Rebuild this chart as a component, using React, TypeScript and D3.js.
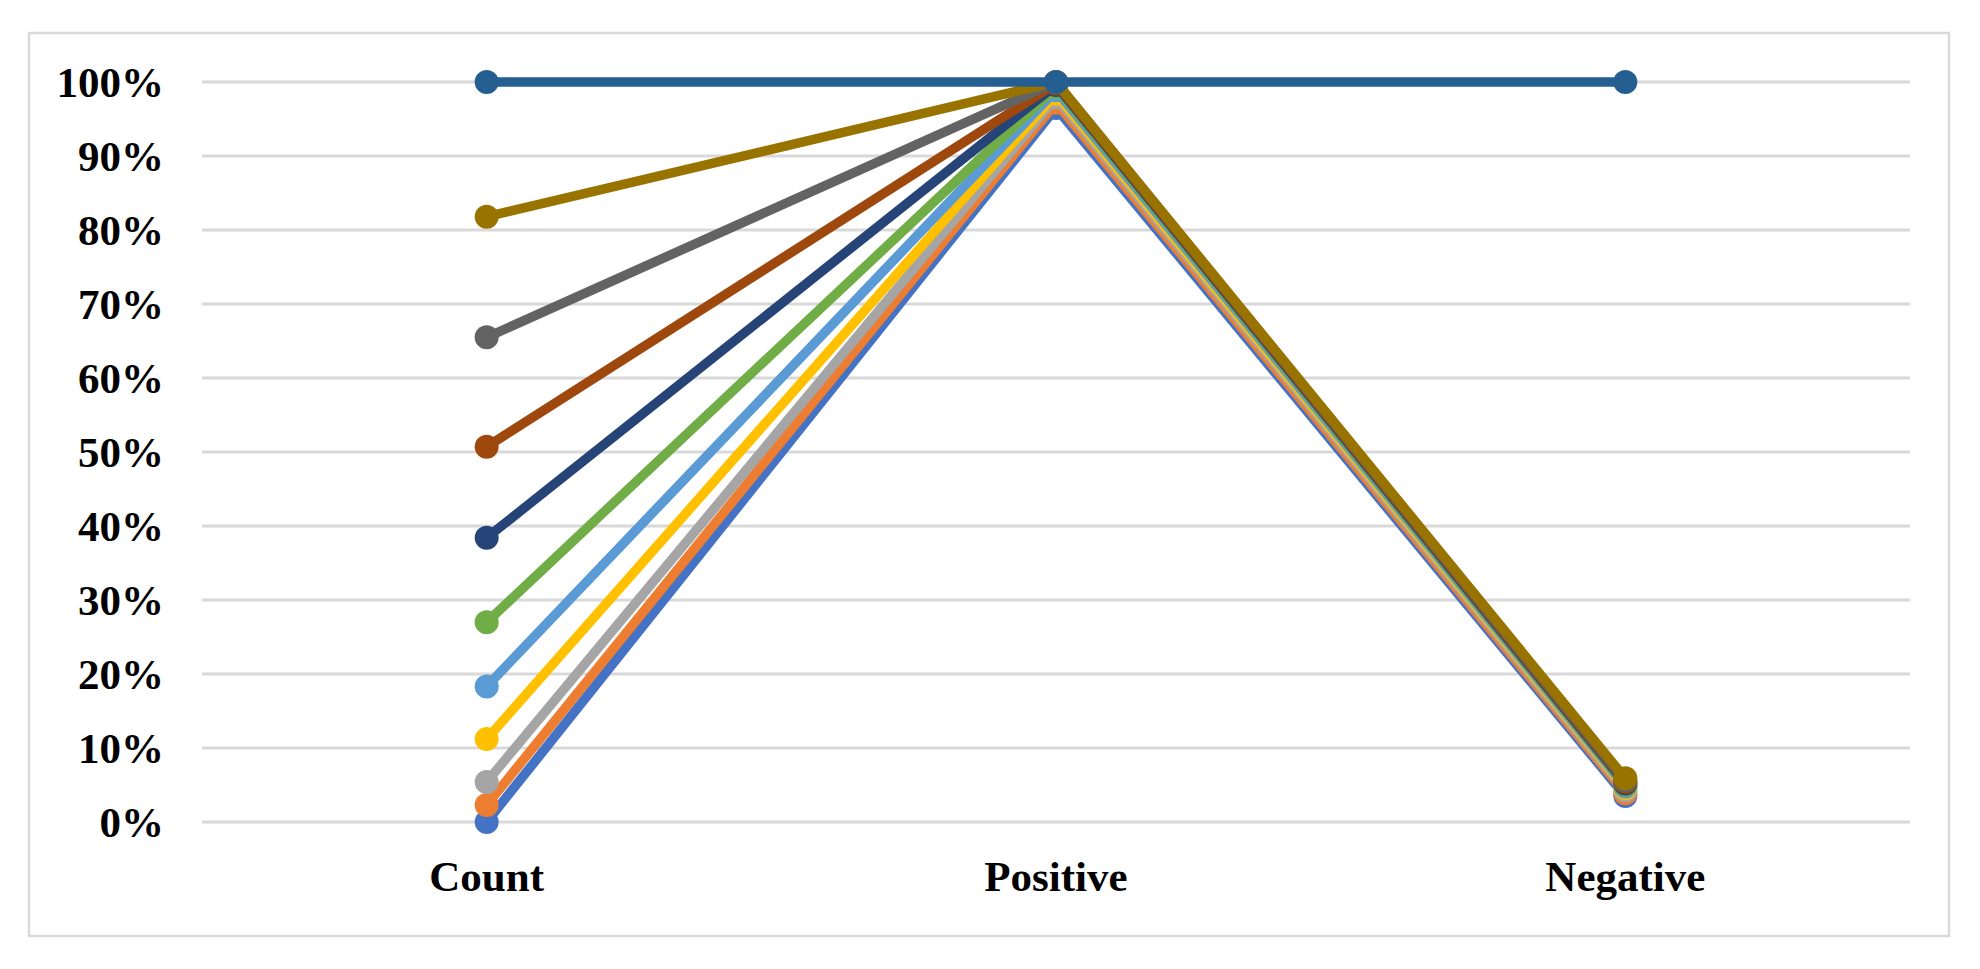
import { useRef, useEffect } from "react";
import * as d3 from "d3";

const categories = ["Count", "Positive", "Negative"];
const yTicks = [0, 10, 20, 30, 40, 50, 60, 70, 80, 90, 100];

// Excel default palette order, drawn first to last
const colors = [
  "#4472C4", "#ED7D31", "#A5A5A5", "#FFC000", "#5B9BD5", "#70AD47",
  "#264478", "#9E480E", "#636363", "#997300", "#255E91",
];

const s1 = [0, 96.5, 3.5];
const s2 = [2.3, 97.2, 3.9];
const s3 = [5.4, 97.9, 4.3];
const s4 = [11.2, 98.4, 4.6];
const s5 = [18.3, 98.9, 4.8];
const s6 = [27.0, 99.3, 5.0];
const s7 = [38.4, 99.6, 5.2];
const s8 = [50.7, 99.8, 5.4];
const s9 = [65.5, 100, 5.6];
const s10 = [81.8, 100, 5.9];
const s11 = [100, 100, 100];

const series = [s1, s2, s3, s4, s5, s6, s7, s8, s9, s10, s11];

const W = 1980, H = 969;

export default function App() {
  const svgRef = useRef<SVGSVGElement>(null);

  useEffect(() => {
    document.body.style.margin = "0";
    if (!svgRef.current) return;
    const svg = d3.select(svgRef.current);
    svg.selectAll("*").remove();

    const left = 202, right = 1910, top = 82, bottom = 822;
    const x = d3.scaleBand<string>().domain(categories).range([left, right]);
    const y = d3.scaleLinear().domain([0, 100]).range([bottom, top]);
    const font = "'Liberation Serif', 'Times New Roman', serif";

    svg.append("rect").attr("width", W).attr("height", H).attr("fill", "#fff");
    svg.append("rect")
      .attr("x", 29).attr("y", 33).attr("width", 1920).attr("height", 903)
      .attr("fill", "none").attr("stroke", "#d9d9d9").attr("stroke-width", 2.5);

    svg.append("g").selectAll("line").data(yTicks).join("line")
      .attr("x1", left).attr("x2", right)
      .attr("y1", d => y(d)).attr("y2", d => y(d))
      .attr("stroke", "#d9d9d9").attr("stroke-width", 3);

    svg.append("g").selectAll("text").data(yTicks).join("text")
      .attr("x", 164).attr("y", d => y(d))
      .attr("text-anchor", "end").attr("dominant-baseline", "central")
      .attr("font-family", font).attr("font-weight", "bold").attr("font-size", 43)
      .attr("fill", "#000")
      .text(d => `${d}%`);

    svg.append("g").selectAll("text").data(categories).join("text")
      .attr("x", d => x(d)! + x.bandwidth() / 2).attr("y", 876)
      .attr("text-anchor", "middle").attr("dominant-baseline", "central")
      .attr("font-family", font).attr("font-weight", "bold").attr("font-size", 43)
      .attr("fill", "#000")
      .text(d => d);

    const cx = (i: number) => x(categories[i])! + x.bandwidth() / 2;
    const line = d3.line<number>().x((_, i) => cx(i)).y(d => y(d));

    series.forEach((vals, si) => {
      const g = svg.append("g");
      g.append("path").datum(vals)
        .attr("fill", "none").attr("stroke", colors[si]).attr("stroke-width", 9.5)
        .attr("stroke-linejoin", "round").attr("d", line);
      g.selectAll("circle").data(vals).join("circle")
        .attr("cx", (_, i) => cx(i)).attr("cy", d => y(d)).attr("r", 12)
        .attr("fill", colors[si]);
    });
  }, []);

  return <svg ref={svgRef} width={W} height={H} style={{ display: "block" }} />;
}
